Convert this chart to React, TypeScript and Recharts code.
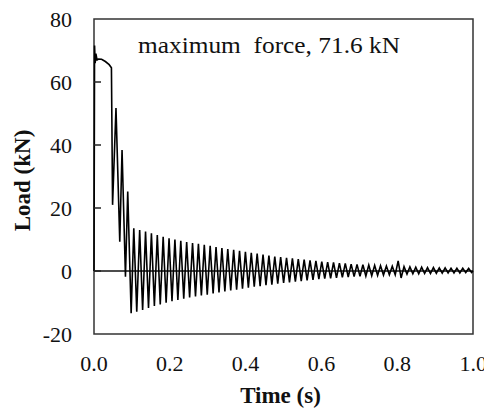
import React from 'react';
import {
  LineChart,
  Line,
  XAxis,
  YAxis,
  ReferenceLine,
  ReferenceArea,
} from 'recharts';

const time = [
  0, 0.0015, 0.003, 0.005, 0.008, 0.012, 0.02, 0.03, 0.04, 0.046,
  0.049, 0.058, 0.068, 0.074, 0.083, 0.089, 0.098,
  0.105, 0.1128, 0.1205, 0.1283, 0.136, 0.1438, 0.1515, 0.1593,
  0.167, 0.1748, 0.1825, 0.1903, 0.198, 0.2058, 0.2135, 0.2213,
  0.229, 0.2368, 0.2445, 0.2523, 0.26, 0.2678, 0.2755, 0.2833,
  0.291, 0.2988, 0.3065, 0.3143, 0.322, 0.3298, 0.3375, 0.3453,
  0.353, 0.3608, 0.3685, 0.3763, 0.384, 0.3918, 0.3995, 0.4073,
  0.415, 0.4228, 0.4305, 0.4383, 0.446, 0.4538, 0.4615, 0.4693,
  0.477, 0.4848, 0.4925, 0.5003, 0.508, 0.5158, 0.5235, 0.5313,
  0.539, 0.5468, 0.5545, 0.5623, 0.57, 0.5778, 0.5855, 0.5933,
  0.601, 0.6088, 0.6165, 0.6243, 0.632, 0.6398, 0.6475, 0.6553,
  0.663, 0.6708, 0.6785, 0.6863, 0.694, 0.7018, 0.7095, 0.7173,
  0.725, 0.7328, 0.7405, 0.7483, 0.756, 0.7638, 0.7715, 0.7793,
  0.787, 0.7948, 0.8025, 0.8103, 0.818, 0.8258, 0.8335, 0.8413,
  0.849, 0.8568, 0.8645, 0.8723, 0.88, 0.8878, 0.8955, 0.9033,
  0.911, 0.9188, 0.9265, 0.9343, 0.942, 0.9498, 0.9575, 0.9653,
  0.973, 0.9808, 0.9885, 0.9963, 1.0,
];

const load = [
  0, 71.6, 66, 69, 67, 67.3, 67.2, 66.5, 65.5, 64.5,
  21, 51.7, 9.3, 38.4, -1.8, 25.2, -13.4,
  13.6, -12.9, 13.0, -12.4, 12.5, -11.7, 12.0, -11.1,
  11.4, -10.6, 10.9, -10.1, 10.4, -9.6, 10.0, -9.2,
  9.6, -8.8, 9.2, -8.4, 8.9, -8.1, 8.6, -7.8,
  8.3, -7.5, 8.0, -7.1, 7.6, -6.8, 7.3, -6.5,
  7.0, -6.2, 6.7, -5.9, 6.4, -5.6, 6.1, -5.3,
  5.8, -5.0, 5.5, -4.8, 5.2, -4.5, 4.9, -4.3,
  4.6, -4.0, 4.4, -3.8, 4.2, -3.6, 4.0, -3.4,
  3.8, -3.2, 3.6, -3.0, 3.4, -2.8, 3.2, -2.6,
  3.0, -2.4, 2.8, -2.3, 2.7, -2.2, 2.5, -2.0,
  2.4, -1.9, 2.2, -1.8, 2.1, -1.7, 2.0, -1.6,
  1.9, -1.5, 1.8, -1.4, 1.7, -1.3, 1.6, -1.2,
  1.5, -1.2, 3.2, -2.2, 1.4, -1.0, 1.3, -0.9,
  1.2, -0.9, 1.2, -0.8, 1.1, -0.8, 1.1, -0.7,
  1.0, -0.7, 1.0, -0.6, 0.9, -0.6, 0.9, -0.6,
  0.9, -0.5, 0.8, -0.5, 0,
];

const xTicks = [0, 0.2, 0.4, 0.6, 0.8, 1.0];
const yTicks = [-20, 0, 20, 40, 60, 80];

const data = time.map((t, i) => ({ t, load: load[i] }));

const FONT = '"Liberation Serif", "Times New Roman", serif';
const Y_MARGIN = 22;

function YTick(props: any) {
  const { x, y, payload } = props;
  const v = payload.value;
  return (
    <g>
      <text x={x} y={y} dy="0.35em" textAnchor="end" fontSize={22} fontFamily={FONT} fill="#111">
        {v}
      </text>
      {v > -20 && v < 80 && (
        <line x1={x + Y_MARGIN} x2={x + Y_MARGIN + 7} y1={y} y2={y} stroke="#222" strokeWidth={1.5} />
      )}
    </g>
  );
}

function XTick(props: any) {
  const { x, y, payload } = props;
  // the last label sits against the page edge, so anchor it by its end
  const last = payload.value >= 1;
  return (
    <text
      x={last ? x + 14 : x}
      y={y}
      dy="0.71em"
      textAnchor={last ? 'end' : 'middle'}
      fontSize={22}
      fontFamily={FONT}
      fill="#111"
    >
      {payload.value.toFixed(1)}
    </text>
  );
}

function YLabel(props: any) {
  const { x, y, height } = props.viewBox;
  return (
    <text
      transform={`translate(${x + 14},${y + height / 2 + 4}) rotate(-90)`}
      dy="0.35em"
      textAnchor="middle"
      fontSize={23}
      fontWeight="bold"
      fontFamily={FONT}
      fill="#111"
    >
      Load (kN)
    </text>
  );
}

function XLabel(props: any) {
  const { x, y, width, height } = props.viewBox;
  return (
    <text
      x={x + width / 2 - 3}
      y={y + height - 9}
      textAnchor="middle"
      fontSize={23}
      fontWeight="bold"
      fontFamily={FONT}
      fill="#111"
    >
      Time (s)
    </text>
  );
}

export default function App() {
  return (
    <div style={{ position: 'relative', width: 484, height: 404 }}>
      <style>
        {'html { overflow: hidden; } .recharts-wrapper, .recharts-surface { overflow: visible !important; }'}
      </style>
      <LineChart width={484} height={404} data={data} margin={{ top: 11, right: 19, left: 0, bottom: 0 }}>
        <XAxis
          dataKey="t"
          type="number"
          domain={[0, 1]}
          ticks={xTicks}
          tick={<XTick />}
          tickLine={false}
          tickSize={0}
          tickMargin={21}
          axisLine={false}
          height={78}
          label={<XLabel />}
        />
        <YAxis
          type="number"
          domain={[-20, 80]}
          ticks={yTicks}
          tick={<YTick />}
          tickLine={false}
          tickSize={0}
          tickMargin={Y_MARGIN}
          axisLine={false}
          width={86}
          label={<YLabel />}
        />
        <ReferenceArea x1={0} x2={1} y1={-20} y2={80} fill="none" stroke="#333" strokeWidth={1.5} ifOverflow="visible" />
        <ReferenceLine y={0} stroke="#111" strokeWidth={1.3} />
        <Line
          type="linear"
          dataKey="load"
          stroke="#000"
          strokeWidth={1.6}
          dot={false}
          isAnimationActive={false}
        />
      </LineChart>
      <svg width={484} height={404} style={{ position: 'absolute', left: 0, top: 0, pointerEvents: 'none' }}>
        <text
          x={130}
          y={45}
          fontSize={23}
          fontFamily={FONT}
          fill="#111"
          textLength={262}
          lengthAdjust="spacingAndGlyphs"
          xmlSpace="preserve"
          style={{ whiteSpace: 'pre' }}
        >
          {'maximum  force, 71.6 kN'}
        </text>
      </svg>
    </div>
  );
}
